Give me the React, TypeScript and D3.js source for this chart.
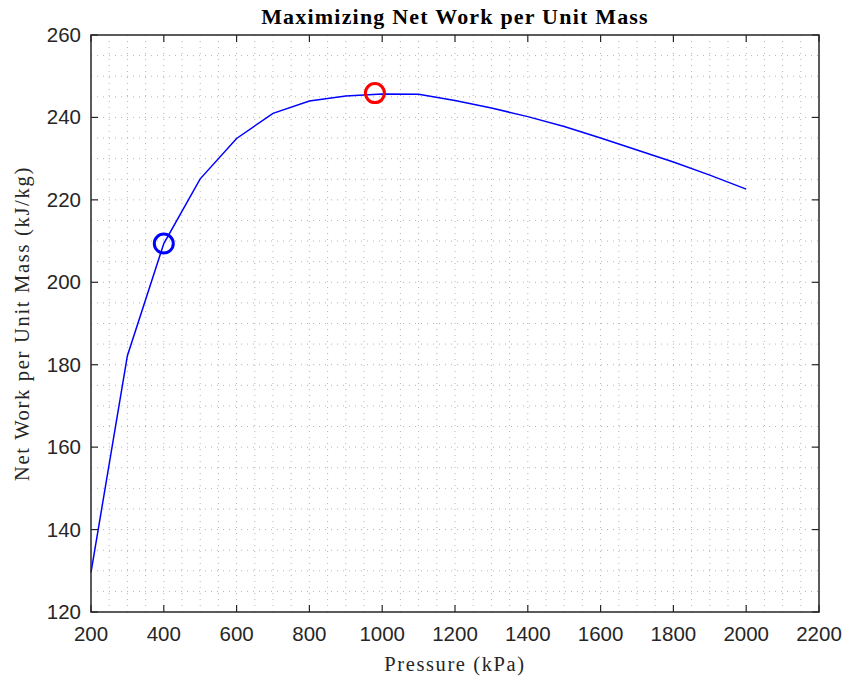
import React from "react";
import * as d3 from "d3";

const pressures = [200, 300, 400, 500, 600, 700, 800, 900, 1000, 1100, 1200, 1300, 1400, 1500, 1600, 1700, 1800, 1900, 2000];
const netWork = [129.6, 182.2, 209.4, 225.1, 234.9, 241.0, 244.0, 245.2, 245.7, 245.6, 244.1, 242.3, 240.2, 237.8, 235.0, 232.1, 229.2, 226.0, 222.6];
const xTicks = [200, 400, 600, 800, 1000, 1200, 1400, 1600, 1800, 2000, 2200];
const yTicks = [120, 140, 160, 180, 200, 220, 240, 260];
const startPoint = { p: 400, w: 209.4 };
const maxPoint = { p: 980, w: 245.9 };

const W = 847, H = 684;
const left = 91, right = 819, top = 35, bottom = 612;

export default function App() {
  const x = d3.scaleLinear().domain([200, 2200]).range([left, right]);
  const y = d3.scaleLinear().domain([120, 260]).range([bottom, top]);
  const line = d3.line<number>().x((_, i) => x(pressures[i])).y((d) => y(d));
  const minorX = d3.range(200, 2200 + 1, 50);
  const minorY = d3.range(120, 260 + 0.1, 5);
  const axisColor = "#262626";
  const gridColor = "#b4b4b4";
  const serif = "'Liberation Serif', 'Times New Roman', serif";
  return (
    <svg width={W} height={H} style={{ position: "absolute", left: 0, top: 0, background: "#fff" }}>
      <rect x={0} y={0} width={W} height={H} fill="#fff" />
      <rect x={left} y={top} width={right - left} height={bottom - top} fill="#fff" />
      <g stroke={gridColor} strokeWidth={1} strokeDasharray="1,5">
        {minorX.slice(1, -1).map((v) => (
          <line key={"gx" + v} x1={x(v)} x2={x(v)} y1={top} y2={bottom} />
        ))}
        {minorY.slice(1, -1).map((v) => (
          <line key={"gy" + v} x1={left} x2={right} y1={y(v)} y2={y(v)} />
        ))}
      </g>
      <path d={line(netWork) || ""} fill="none" stroke="#0000ff" strokeWidth={1.5} />
      <circle cx={x(startPoint.p)} cy={y(startPoint.w)} r={9.5} fill="none" stroke="#0000ff" strokeWidth={3} />
      <circle cx={x(maxPoint.p)} cy={y(maxPoint.w)} r={9.5} fill="none" stroke="#ff0000" strokeWidth={3} />
      <g stroke={axisColor} strokeWidth={1.2}>
        {xTicks.map((v) => (
          <g key={"tx" + v}>
            <line x1={x(v)} x2={x(v)} y1={bottom} y2={bottom - 7} />
            <line x1={x(v)} x2={x(v)} y1={top} y2={top + 7} />
          </g>
        ))}
        {yTicks.map((v) => (
          <g key={"ty" + v}>
            <line x1={left} x2={left + 7} y1={y(v)} y2={y(v)} />
            <line x1={right} x2={right - 7} y1={y(v)} y2={y(v)} />
          </g>
        ))}
      </g>
      <rect x={left} y={top} width={right - left} height={bottom - top} fill="none" stroke={axisColor} strokeWidth={1.5} />
      <g fill={axisColor} fontFamily="'Liberation Sans', Arial, sans-serif" fontSize={20.5}>
        {xTicks.map((v) => (
          <text key={"lx" + v} x={x(v)} y={641} textAnchor="middle">{v}</text>
        ))}
        {yTicks.map((v) => (
          <text key={"ly" + v} x={81} y={y(v) + 7} textAnchor="end">{v}</text>
        ))}
      </g>
      <text x={(left + right) / 2} y={24} textAnchor="middle" fontFamily={serif} fontWeight="bold" fontSize={22} letterSpacing={1.2} fill="#000">
        Maximizing Net Work per Unit Mass
      </text>
      <text x={(left + right) / 2} y={671} textAnchor="middle" fontFamily={serif} fontSize={20.5} letterSpacing={1.6} fill={axisColor}>
        Pressure (kPa)
      </text>
      <text transform={`translate(29,${(top + bottom) / 2}) rotate(-90)`} textAnchor="middle" fontFamily={serif} fontSize={20.5} letterSpacing={1.7} fill={axisColor}>
        Net Work per Unit Mass (kJ/kg)
      </text>
    </svg>
  );
}
